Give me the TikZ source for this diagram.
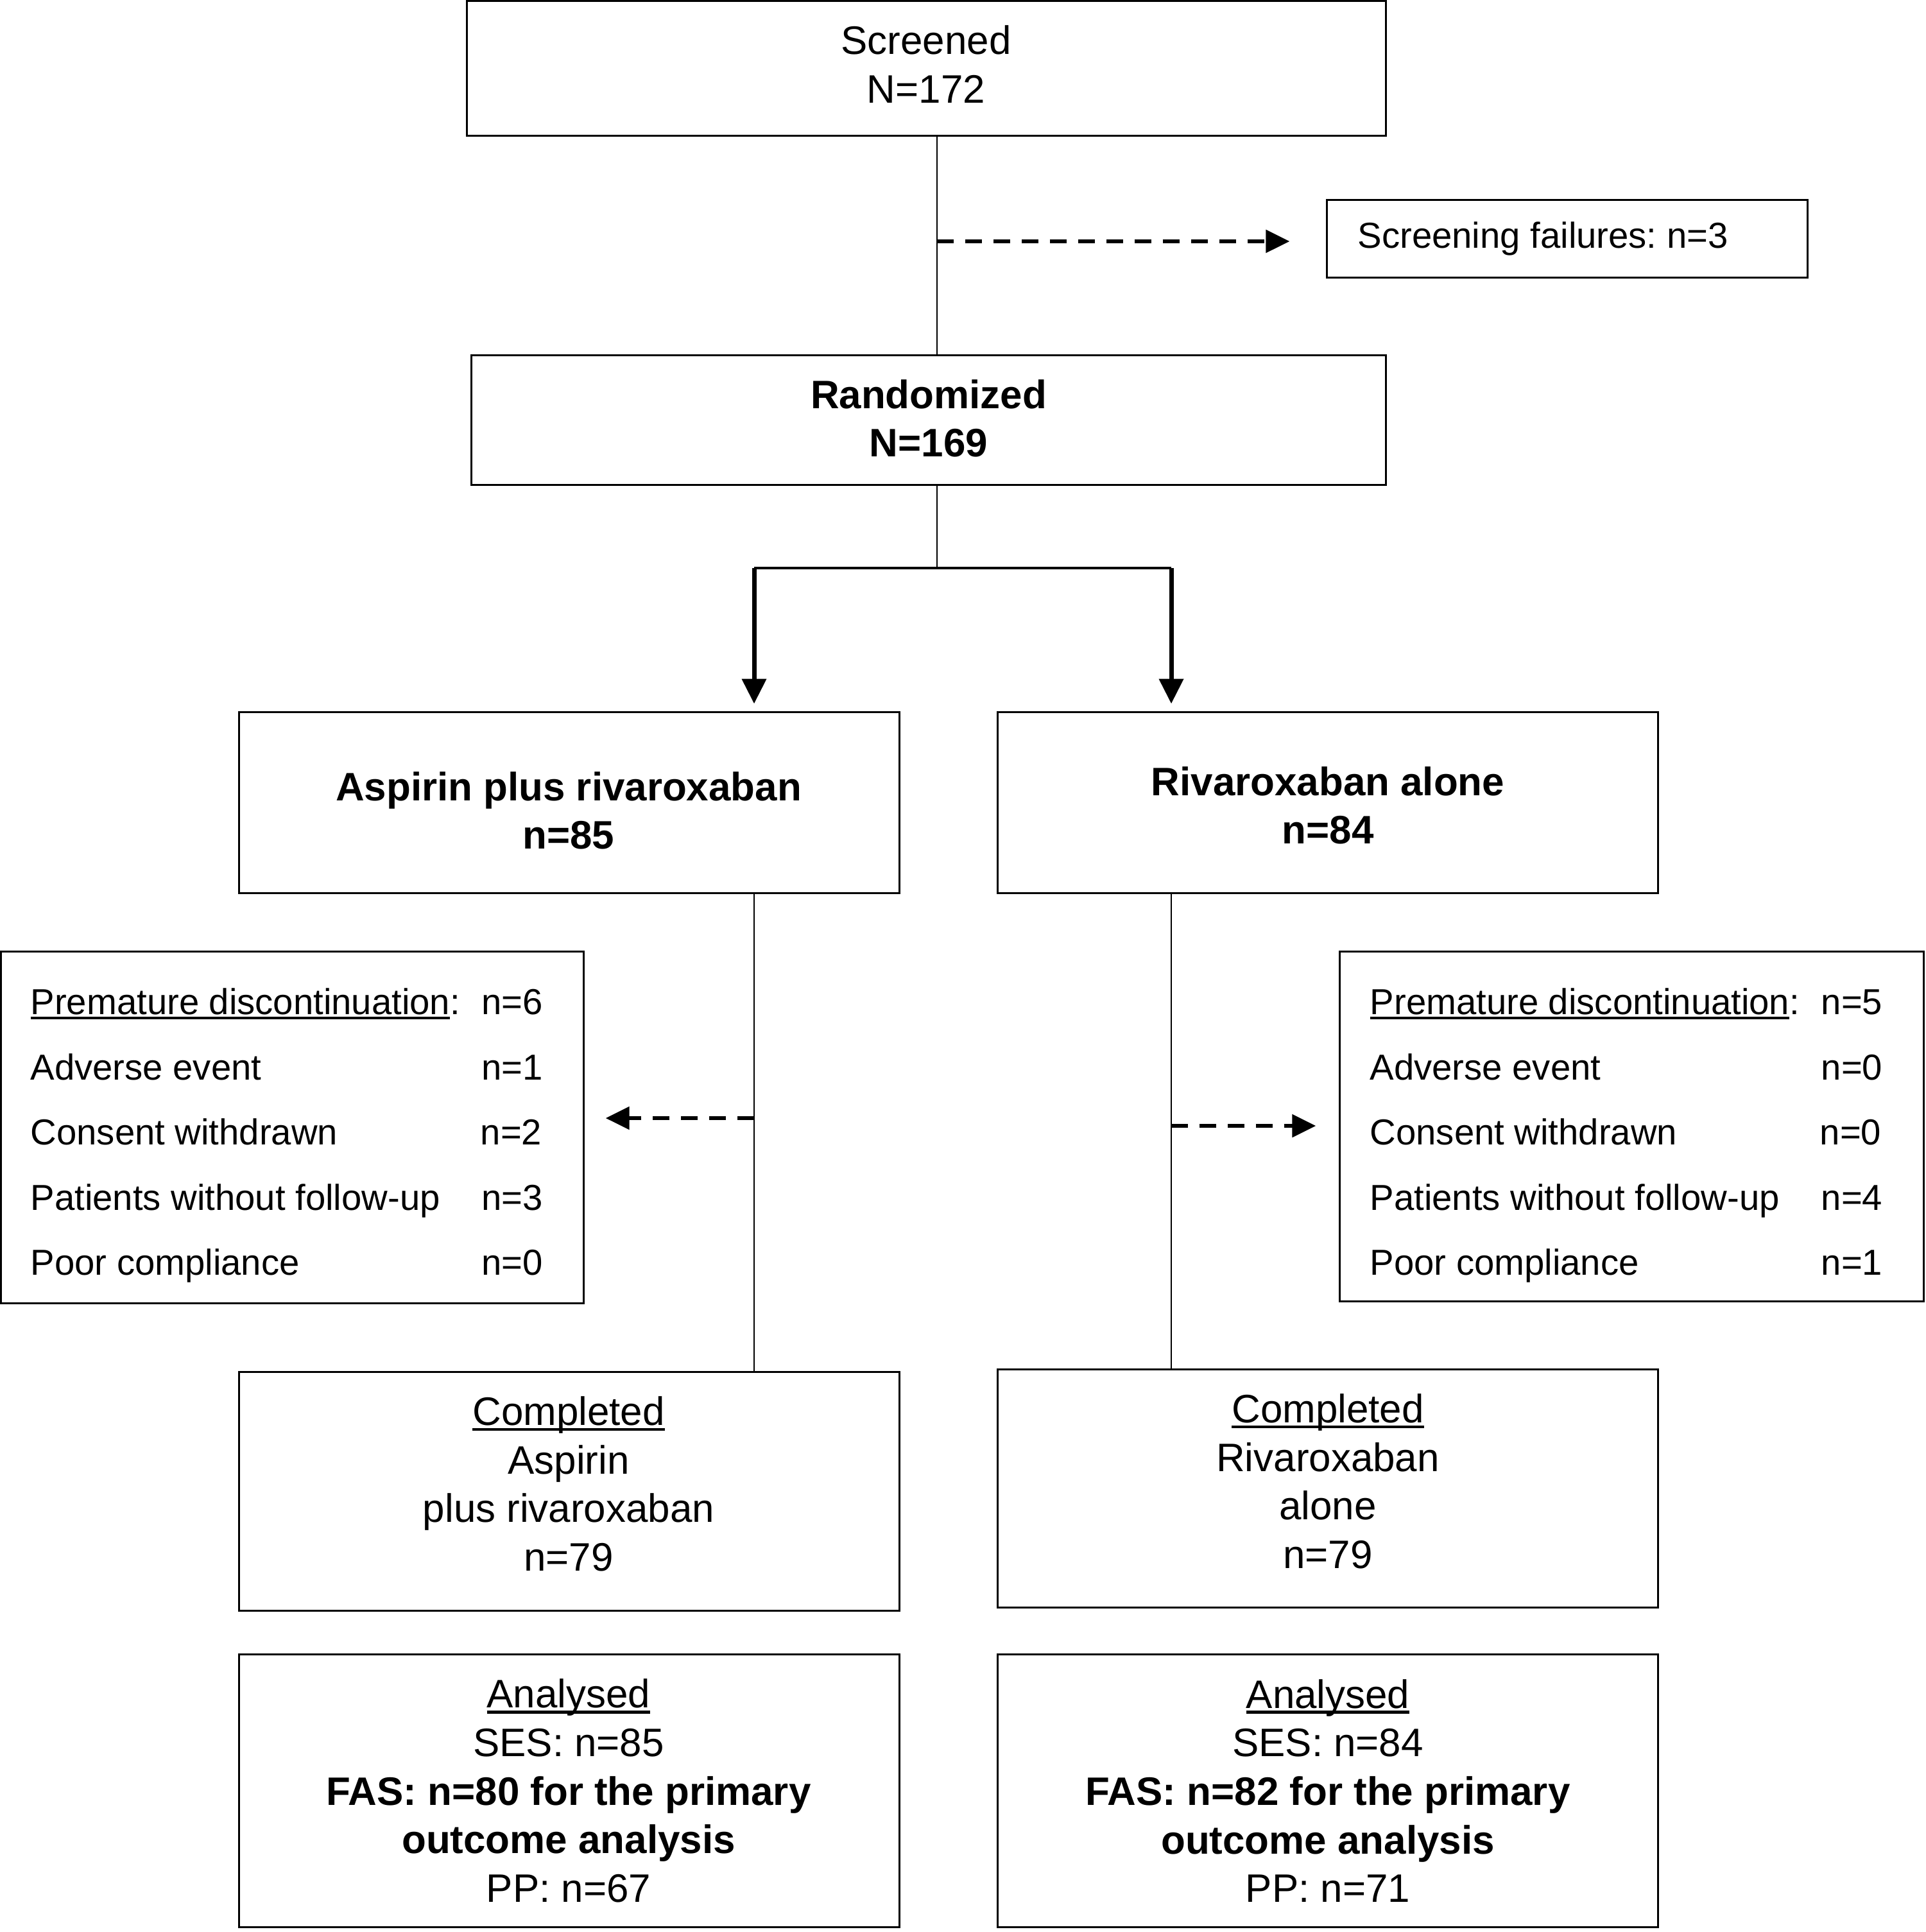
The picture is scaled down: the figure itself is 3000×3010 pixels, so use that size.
\documentclass[tikz,border=0pt]{standalone}
\usepackage{fontspec}
\setmainfont{Liberation Sans}
\usetikzlibrary{arrows.meta}
\frenchspacing
\newcommand{\ulx}[1]{\setbox0\hbox{#1}\rlap{\rule[-0.14em]{\wd0}{0.075em}}\box0}
\begin{document}
\begin{tikzpicture}[x=0.01cm,y=-0.01cm,
  box/.style={draw, line width=0.85pt, rectangle, inner sep=0pt},
  txt/.style={inner sep=0pt, align=center, font=\fontsize{17.6}{21.5}\selectfont},
  btxt/.style={inner sep=0pt, align=center, font=\bfseries\fontsize{17.6}{21.5}\selectfont},
  row/.style={inner sep=0pt, anchor=base west, font=\fontsize{16}{19}\selectfont},
  thinline/.style={line width=0.75pt},
  branch/.style={line width=2pt, -{Triangle[length=11pt,width=10.5pt]}},
  dasharrow/.style={line width=1.5pt, dash pattern=on 7.5pt off 5pt, -{Triangle[length=10.5pt,width=10pt]}}
]
\useasboundingbox (0,0) rectangle (3000,3010);

% boxes
\node[box, minimum width=14.31cm, minimum height=2.09cm] (scr) at (1443.5,106.5) {};
\node[box, minimum width=7.48cm, minimum height=1.20cm] (fail) at (2442,372) {};
\node[box, minimum width=14.24cm, minimum height=2.01cm] (rand) at (1447,654.5) {};
\node[box, minimum width=10.28cm, minimum height=2.81cm] (asp) at (887,1250.5) {};
\node[box, minimum width=10.28cm, minimum height=2.81cm] (riv) at (2069,1250.5) {};
\node[box, minimum width=9.07cm, minimum height=5.47cm] (discL) at (455.5,1756.5) {};
\node[box, minimum width=9.09cm, minimum height=5.44cm] (discR) at (2542.5,1755) {};
\node[box, minimum width=10.28cm, minimum height=3.71cm] (compL) at (887,2323.5) {};
\node[box, minimum width=10.28cm, minimum height=3.70cm] (compR) at (2069,2319) {};
\node[box, minimum width=10.28cm, minimum height=4.24cm] (anaL) at (887,2790) {};
\node[box, minimum width=10.28cm, minimum height=4.24cm] (anaR) at (2069,2790) {};

% texts
\node[txt] (scrT) at (1443,100) {Screened\\N=172};
\node[row, anchor=west] (failT) at (2115,372) {Screening failures: n=3};
\node[btxt] (randT) at (1447,652) {Randomized\\N=169};
\node[btxt] (aspT) at (886,1263) {Aspirin plus rivaroxaban\\n=85};
\node[btxt] (rivT) at (2069,1255) {Rivaroxaban alone\\n=84};
\node[txt] (compLT) at (886,2312) {\ulx{Completed}\\Aspirin\\plus rivaroxaban\\n=79};
\node[txt] (compRT) at (2069,2308) {\ulx{Completed}\\Rivaroxaban\\alone\\n=79};
\node[txt] (anaLT) at (886,2790) {\ulx{Analysed}\\SES: n=85\\\textbf{FAS: n=80 for the primary}\\\textbf{outcome analysis}\\PP: n=67};
\node[txt] (anaRT) at (2069,2790) {\ulx{Analysed}\\SES: n=84\\\textbf{FAS: n=82 for the primary}\\\textbf{outcome analysis}\\PP: n=71};

% left discontinuation rows
\node[row] (l1) at (47,1580) {\ulx{Premature discontinuation}:};
\node[row] (l2) at (47,1682) {Adverse event};
\node[row] (l3) at (47,1783) {Consent withdrawn};
\node[row] (l4) at (47,1885) {Patients without follow-up};
\node[row] (l5) at (47,1986) {Poor compliance};
\node[row] (ln1) at (750,1580) {n=6};
\node[row] (ln2) at (750,1682) {n=1};
\node[row] (ln3) at (748,1783) {n=2};
\node[row] (ln4) at (750,1885) {n=3};
\node[row] (ln5) at (750,1986) {n=0};

% right discontinuation rows
\node[row] (r1) at (2134,1580) {\ulx{Premature discontinuation}:};
\node[row] (r2) at (2134,1682) {Adverse event};
\node[row] (r3) at (2134,1783) {Consent withdrawn};
\node[row] (r4) at (2134,1885) {Patients without follow-up};
\node[row] (r5) at (2134,1986) {Poor compliance};
\node[row] (rn1) at (2837,1580) {n=5};
\node[row] (rn2) at (2837,1682) {n=0};
\node[row] (rn3) at (2835,1783) {n=0};
\node[row] (rn4) at (2837,1885) {n=4};
\node[row] (rn5) at (2837,1986) {n=1};

% connectors
\coordinate (cx) at (1460,0);
\coordinate (fa) at (1460,376);
\coordinate (bj) at (1460,885);
\coordinate (bl) at (1175,885);
\coordinate (br) at (1825,885);
\coordinate (dl) at (1175,1742);
\coordinate (dr) at (1825,1754);

\draw[thinline] (scr.south -| cx) -- (rand.north -| cx);
\draw[dasharrow, shorten >=0.57cm] (fa) -- (fa -| fail.west);
\draw[thinline] (rand.south -| cx) -- (bj);
\draw[line width=0.9pt] (bl) -- (br);
\draw[branch, shorten >=0.12cm] (bl) -- (bl |- asp.north);
\draw[branch, shorten >=0.12cm] (br) -- (br |- riv.north);
\draw[thinline] (bl |- asp.south) -- (bl |- compL.north);
\draw[thinline] (br |- riv.south) -- (br |- compR.north);
\draw[dasharrow, shorten >=0.33cm] (dl) -- (dl -| discL.east);
\draw[dasharrow, shorten >=0.36cm] (dr) -- (dr -| discR.west);
\end{tikzpicture}
\end{document}
